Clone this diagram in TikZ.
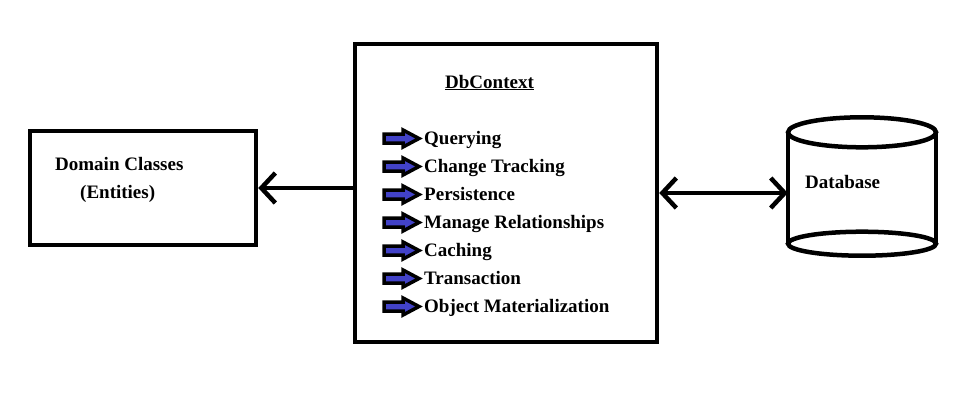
\documentclass[tikz,border=0pt]{standalone}
\usepackage{fontspec}
\setmainfont{Liberation Serif}
\usetikzlibrary{arrows.meta, positioning}
\definecolor{bulletblue}{RGB}{66,66,200}
\tikzset{>={Straight Barb[length=14pt, width=30pt]},
         every node/.style = {font=\fontsize{19}{23}\selectfont\bfseries},
         box/.style = {draw, line width=4.5pt, minimum width=#1},
         txt/.style = {anchor=base west, inner sep=0pt},
         link/.style = {line width=4.5pt},
         bullet/.style = {draw, fill=bulletblue, line width=3.5pt}}

\begin{document}
\begin{tikzpicture}[x=1pt, y=-1pt]
        \useasboundingbox (0,0) rectangle (960,413);
        \node[box=226pt, minimum height=114pt] (entities) at (143,188) {};
        \node[box=302pt, minimum height=298pt] (ctx)      at (506,193) {};
        \node[minimum width=148pt, minimum height=111pt, inner sep=0pt] (db) at (862,188) {};

        % cylinder
        \draw[link] (db.north west) -- (db.south west) (db.north east) -- (db.south east);
        \draw[link] (db.north) ellipse [x radius=74pt, y radius=15pt];
        \draw[link] (db.south) ellipse [x radius=74pt, y radius=12pt];

        \node[txt] (dclass) at (55,170)  {Domain Classes};
        \node[txt] (ent)    at (80,198)  {(Entities)};
        \node[txt] (dbname) at (805,188) {Database};
        \node[txt] (title)  at (445,88)  {\underline{DbContext}};

        \foreach \item [count=\i] in {Querying, Change Tracking, Persistence,
                Manage Relationships, Caching, Transaction, Object Materialization}
        {
            \node[txt] (item\i) at (424, 116.5+28*\i) {\item};
            \draw[bullet, shift={(item\i.base west)}] (-40,-10.5) -- (-21,-10.5) -- (-21,-14.5)
                -- (-5,-6) -- (-21,2.5) -- (-21,-1.5) -- (-40,-1.5) -- cycle;
        }

        \draw[link, ->]  (ctx.west |- entities.east) -- (entities.east);
        \draw[link, <->] (ctx.east) -- (ctx.east -| db.west);
\end{tikzpicture}
\end{document}
